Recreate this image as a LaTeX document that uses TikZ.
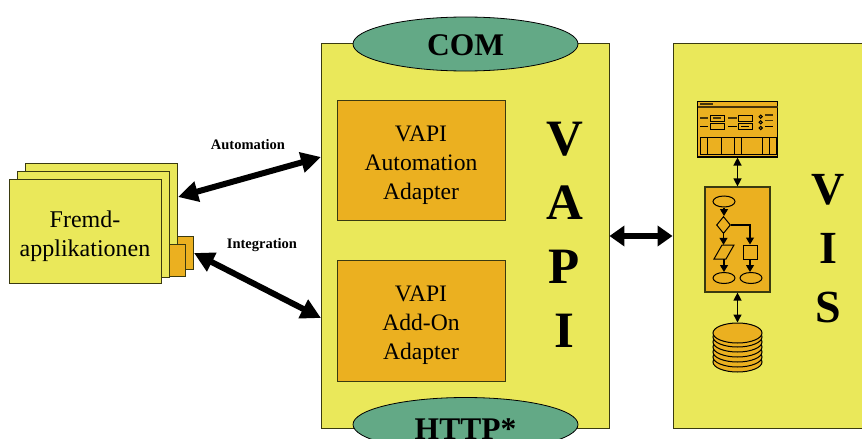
\documentclass[tikz,border=0pt]{standalone}
\usepackage{fontspec}
\setmainfont{Liberation Serif}
\usetikzlibrary{arrows.meta,shapes.geometric}
\definecolor{ylw}{HTML}{EAE85A}
\definecolor{org}{HTML}{EBB020}
\definecolor{grn}{HTML}{63A986}
\definecolor{edge}{HTML}{3A3A10}
\newcommand{\fs}[1]{\fontsize{#1}{#1}\selectfont}
\tikzset{
  panel/.style={draw=edge,line width=.9pt,fill=ylw,rectangle,inner sep=0pt},
  adapter/.style={draw=edge,line width=.9pt,fill=org,rectangle,inner sep=0pt,align=center,font=\fs{23.6},text=black},
  oval/.style={ellipse,draw=black,line width=.8pt,fill=grn,inner sep=0pt,minimum width=225pt,minimum height=54pt},
  ovaltext/.style={font=\bfseries\fs{31.5},inner sep=0pt},
  biglabel/.style={font=\bfseries\fs{14.5},inner sep=0pt},
  fat/.style={line width=6pt,{Triangle[length=20pt,width=20pt]}-{Triangle[length=20pt,width=20pt]}},
  fatshort/.style={line width=6pt,{Triangle[length=15pt,width=20pt]}-{Triangle[length=15pt,width=20pt]}},
  slim/.style={line width=1.3pt,{Triangle[length=8pt,width=8pt]}-{Triangle[length=8pt,width=8pt]}},
  flow/.style={line width=1.1pt,-{Triangle[length=7pt,width=8pt]}},
  ic/.style={draw=black,line width=1pt},
  icd/.style={draw=black!70!org,line width=1.3pt},
  fel/.style={ellipse,draw=black,line width=1pt,fill=org,inner sep=0pt,minimum width=22pt,minimum height=11pt},
  disk/.style={ellipse,draw=black,line width=1pt,fill=org,inner sep=0pt,minimum width=49pt,minimum height=20pt},
}
\begin{document}
\begin{tikzpicture}[x=1pt,y=-1pt]
\useasboundingbox (0,0) rectangle (862,439);
\clip (0,0) rectangle (862,439);
% VAPI panel
\node[panel,minimum width=288pt,minimum height=385pt] (vapi) at (465,235.5) {};
\node[oval] (com) at (465.5,44) {};
\node[ovaltext] (comt) at (465.5,45) {COM};
\node[oval] (http) at (465.5,424.5) {};
\node[ovaltext] (httpt) at (465.5,429.5) {HTTP*};
\node[adapter,minimum width=168pt,minimum height=120pt] (a1) at (421,160.5) {};
\node[font=\fs{23.6},align=center,inner sep=0pt] (a1t) at (421,165) {VAPI\\[5.4pt]Automation\\[5.4pt]Adapter};
\node[adapter,minimum width=168pt,minimum height=121pt] (a2) at (421,320.5) {};
\node[font=\fs{23.6},align=center,inner sep=0pt] (a2t) at (421,325) {VAPI\\[5.4pt]Add-On\\[5.4pt]Adapter};
\node[font=\bfseries\fs{51},align=center,inner sep=0pt] (vapit) at (564.5,235) {V\\[13pt]A\\[13pt]P\\[13pt]I};
% VIS panel
\node[panel,minimum width=200pt,minimum height=385pt] (vis) at (773,235.5) {};
\node[font=\bfseries\fs{46},align=center,inner sep=0pt] (vist) at (828,249) {V\\[13pt]I\\[13pt]S};
% window icon
\node[draw=black,line width=1.2pt,fill=org,rectangle,inner sep=0pt,minimum width=80pt,minimum height=55.5pt] (win) at (737.5,129.2) {};
\draw[icd] (697.5,107) -- (777.5,107);
\draw[icd,line width=2pt] (700,104) -- (713,104);
\foreach \xa/\xb in {700/708,728/737}{
  \draw[icd] (\xa,118) -- (\xb,118);
  \draw[ic] (\xa,126) -- (\xb,126);
}
\draw[ic] (710,115.5) rectangle (724,121);
\draw[ic] (710,123.5) rectangle (724,129);
\draw[ic] (738.5,115.5) rectangle (752,121);
\draw[ic] (738.5,123.5) rectangle (752,129);
\draw[icd] (713,118) -- (721,118);
\draw[ic] (741,126) -- (749,126);
\foreach \y in {116.7,122.3,128}{\draw[ic] (760.7,\y) circle (1.6);}
\draw[icd] (765,115) -- (773,115);
\draw[icd] (765,120.7) -- (773,120.7);
\draw[ic] (765,126.3) -- (773,126.3);
\draw[ic] (700,137.5) rectangle (776,154);
\foreach \x in {707,721,734,741,762,769}{\draw[ic] (\x,137.5) -- (\x,154);}
% flowchart icon
\node[draw=edge,line width=1.2pt,fill=org,rectangle,inner sep=0pt,minimum width=65pt,minimum height=105pt] (fc) at (737.5,239.5) {};
\node[fel] (st) at (724,201.5) {};
\node[diamond,draw=black,line width=1pt,fill=org,inner sep=0pt,minimum width=14pt,minimum height=17pt] (dec) at (723.5,225) {};
\node[inner sep=0pt,minimum width=12pt,minimum height=14pt] (io) at (724,252) {};
\draw[ic,fill=org] (714,259) -- (722,245) -- (734,245) -- (726,259) -- cycle;
\node[rectangle,draw=black,line width=1pt,fill=org,inner sep=0pt,minimum size=14pt] (proc) at (750,252) {};
\node[fel] (e1) at (724,278) {};
\node[fel] (e2) at (751,278) {};
\draw[flow] (st.south) -- (st.south|-dec.north);
\draw[flow] (dec.south) -- (dec.south|-io.north);
\draw[flow] (dec.east) -| (proc.north);
\draw[flow] (io.south) -- (e1.north);
\draw[flow] (proc.south) -- (proc.south|-e2.north);
% disk stack
\foreach \y in {362,357,352,347,342,337}{\node[disk] at (737.5,\y) {};}
\node[disk] (dsk) at (737.5,333) {};
% connectors of VIS
\draw[slim] (win.south) -- (fc.north);
\draw[slim] (fc.south) -- (dsk.north);
% Fremdapplikationen
\node[panel,minimum width=152pt,minimum height=106pt] (p3) at (101,216) {};
\node[panel,fill=org,minimum width=16pt,minimum height=33pt] (t2) at (185,252.5) {};
\node[panel,minimum width=152pt,minimum height=106pt] (p2) at (93,224) {};
\node[panel,fill=org,minimum width=16pt,minimum height=32pt] (t1) at (177,260) {};
\node[panel,minimum width=152pt,minimum height=104pt] (p1) at (85,231) {};
\node[font=\fs{24},align=center,inner sep=0pt] (p1t) at (85,236) {Fremd-\\[5pt]applikationen};
% big connectors
\coordinate (autoA) at (178,197);
\coordinate (autoB) at (321,157);
\coordinate (intA) at (194,253);
\coordinate (intB) at (321,318);
\coordinate (mid) at (640,236);
\draw[fat] (autoA) -- (autoB);
\draw[fat] (intA) -- (intB);
\draw[fatshort] (vapi.east|-mid) -- (vis.west|-mid);
\node[biglabel] (lab1) at (248,144.5) {Automation};
\node[biglabel] (lab2) at (262,245) {Integration};
\end{tikzpicture}
\end{document}
